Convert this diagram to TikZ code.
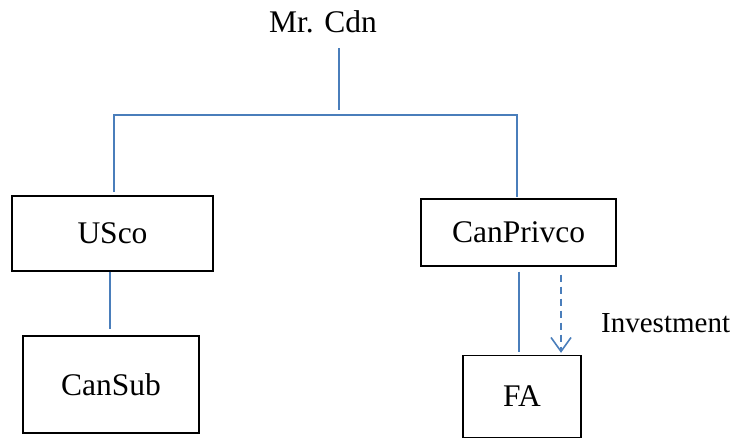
\documentclass[tikz,border=0pt]{standalone}
\usepackage{fontspec}
\setmainfont{Liberation Serif}
\usetikzlibrary{arrows.meta}
\definecolor{lineblue}{RGB}{74,126,187}
\tikzset{
  box/.style={draw=black, line width=1.3pt, rectangle, inner sep=0pt, font=\fontsize{31.5}{36}\selectfont},
  lbl/.style={inner sep=0pt, font=\fontsize{31.5}{36}\selectfont},
  conn/.style={draw=lineblue, line width=1.8pt},
  inv/.style={conn, dashed, dash pattern=on 7pt off 5pt, -{Straight Barb[length=14pt,width=20pt,line width=1.6pt]}}
}
\begin{document}
\begin{tikzpicture}[x=1pt,y=-1pt]
\useasboundingbox (0,0) rectangle (735,439);
\node[lbl, anchor=base] (mr) at (323,32) {Mr. Cdn};
\node[box, minimum width=201pt, minimum height=75pt] (usco) at (112.5,233.5) {USco};
\node[box, minimum width=176pt, minimum height=97pt] (cansub) at (111,384.5) {CanSub};
\node[box, minimum width=195pt, minimum height=67pt] (canpriv) at (518.5,232.5) {CanPrivco};
\node[box, minimum width=118pt, minimum height=82pt] (fa) at (522,396.5) {FA};
\node[lbl, anchor=base west, font=\fontsize{29}{34}\selectfont] (invl) at (601,332) {Investment};
\coordinate (mtop) at (339,48);
\coordinate (mbot) at (339,110);
\coordinate (bl) at (114,115);
\coordinate (br) at (517,115);
\coordinate (ul) at (114,192);
\coordinate (ur) at (517,197);
\draw[conn] (mtop) -- (mbot);
\draw[conn] (ul) -- (bl) -- (br) -- (ur);
\coordinate (us1) at (usco.south -| 110,0);
\coordinate (cs1) at (cansub.north -| 110,0);
\draw[conn, shorten >=6pt] (us1) -- (cs1);
\coordinate (cp1) at (canpriv.south -| 519,0);
\coordinate (fa1) at (fa.north -| 519,0);
\draw[conn, shorten <=5pt, shorten >=3pt] (cp1) -- (fa1);
\coordinate (cp2) at (canpriv.south -| 561,0);
\coordinate (fa2) at (fa.north -| 561,0);
\draw[inv, shorten <=8pt, shorten >=2pt] (cp2) -- (fa2);
\end{tikzpicture}
\end{document}
